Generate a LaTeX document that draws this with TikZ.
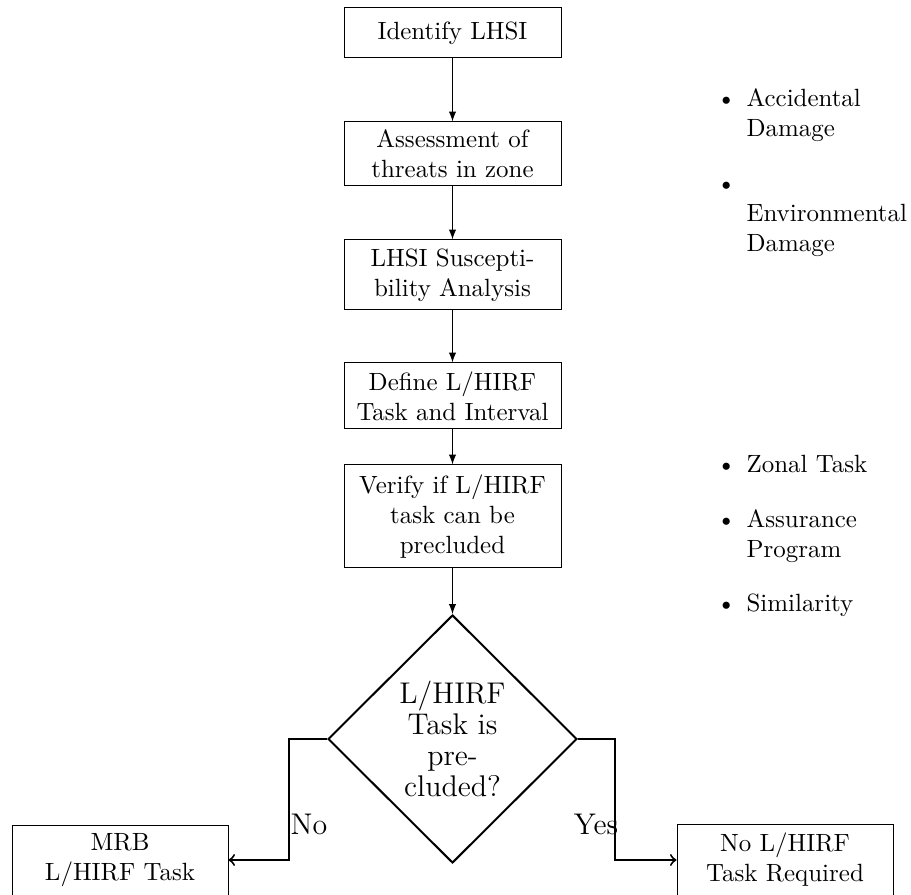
\documentclass[tikz,border=0pt]{standalone}
\usepackage{fontspec}
\usetikzlibrary{shapes.geometric,arrows}
\def\pxu{0.4012pt}
\begin{document}
\begin{tikzpicture}[x=\pxu,y=-\pxu,
  stepbox/.style={draw, align=center, minimum width={217*\pxu}, inner sep=3pt},
  flow/.style={-latex},
  decision/.style={draw, thick, diamond, inner sep=0pt, minimum width={249*\pxu},
    minimum height={248*\pxu}, align=center, font=\fontsize{12}{12.5}\selectfont},
  branch/.style={thick, ->},
  branchlabel/.style={font=\large, anchor=base, inner sep=0pt},
  outcome/.style={draw, align=center, minimum width={216*\pxu}, minimum height={70*\pxu}},
  notes/.style={anchor=base west, inner sep=0pt}
]
\useasboundingbox (0,0) rectangle (911,895);

% main process chain
\node[stepbox, minimum height={50*\pxu}] (identify) at (452.5,33) {Identify LHSI};
\node[stepbox, minimum height={64*\pxu}] (assess) at (452.5,154) {Assessment of\\threats in zone};
\node[stepbox, minimum height={70*\pxu}] (suscept) at (452.5,275) {LHSI Suscepti-\\bility Analysis};
\node[stepbox, minimum height={66*\pxu}] (define) at (452.5,396) {Define L/HIRF\\Task and Interval};
\node[stepbox, minimum height={103*\pxu}] (verify) at (452.5,516.5) {Verify if L/HIRF\\task can be\\precluded};
\node[decision] (decide) at (452.5,739) {L/HIRF\\Task is\\pre-\\cluded?};

\draw[flow] (identify) -- (assess);
\draw[flow] (assess) -- (suscept);
\draw[flow] (suscept) -- (define);
\draw[flow] (define) -- (verify);
\draw[flow] (verify) -- (decide);

% outcomes
\node[outcome] (mrb) at (120,860) {MRB\\L/HIRF Task};
\node[outcome] (notask) at (785,860) {No L/HIRF\\Task Required};

\coordinate (noturn) at (289,739);
\coordinate (yesturn) at (615,739);
\draw[branch] (decide.west) -- (noturn) |- (mrb.east);
\draw[branch] (decide.east) -- (yesturn) |- (notask.west);
\node[branchlabel] (nolabel) at (309,835) {No};
\node[branchlabel] (yeslabel) at (596,835) {Yes};

% side notes
\node[notes] (threats) at (716,107) {\begin{tabular}[t]{@{}c@{\hspace{4.3pt}}l@{}}
\textbullet & Accidental\\
 & Damage\\[10pt]
\textbullet & \\
 & Environmental\\
 & Damage
\end{tabular}};
\node[notes] (preclusion) at (716,473) {\begin{tabular}[t]{@{}c@{\hspace{4.3pt}}l@{}}
\textbullet & Zonal Task\\[10pt]
\textbullet & Assurance\\
 & Program\\[9.5pt]
\textbullet & Similarity
\end{tabular}};
\end{tikzpicture}
\end{document}
